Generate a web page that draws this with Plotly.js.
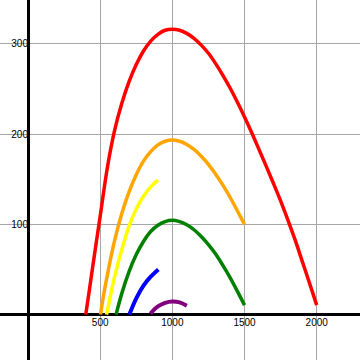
<!DOCTYPE html>
<html>
<head>
<meta charset="utf-8">
<script src="https://cdn.plot.ly/plotly-3.0.1.min.js"></script>
<style>html,body{margin:0;padding:0;background:#fff;}#chart{width:360px;height:360px;}</style>
</head>
<body>
<div id="chart"></div>
<script>
// Data
const redX = [400, 425, 450, 475, 500, 550, 600, 650, 700, 750, 800, 850, 900, 950, 1000, 1050, 1100, 1150, 1200, 1250, 1300, 1350, 1400, 1450, 1500, 1550, 1600, 1650, 1700, 1750, 1800, 1850, 1900, 1950, 2000];
const redY = [0, 27, 55, 82, 109, 163, 204, 234, 258, 277, 292, 303, 310.5, 315, 316, 315, 311.5, 306, 298.5, 289.5, 278, 265, 251, 235.5, 219, 201.5, 183, 164.5, 145.5, 126, 105, 83, 59, 35, 10.5];

const orangeX = [502, 525, 550, 575, 600, 650, 700, 750, 800, 850, 900, 950, 1000, 1050, 1100, 1150, 1200, 1250, 1300, 1350, 1400, 1450, 1500];
const orangeY = [0, 23, 44, 64, 82, 112, 136, 155, 170, 180.5, 188, 192, 193.5, 192, 188.5, 183, 175.5, 166.5, 155.5, 143.5, 130, 115, 100];

const yellowX = [544, 575, 600, 650, 700, 750, 800, 850, 900];
const yellowY = [0, 24, 42, 72, 98, 117, 131, 141.5, 149];

const greenX = [610, 650, 700, 750, 800, 850, 900, 950, 1000, 1050, 1100, 1150, 1200, 1250, 1300, 1350, 1400, 1450, 1500];
const greenY = [0, 23.5, 47.5, 66.5, 81, 92, 99, 103, 104.5, 103, 99.5, 94, 86.5, 77.5, 67, 54.5, 41, 26, 10.5];

const blueX = [702, 750, 800, 850, 903];
const blueY = [0, 18, 32, 42, 50];

const purpleX = [848, 900, 950, 1000, 1050, 1100];
const purpleY = [1, 9, 13, 14.5, 13.5, 9.8];

const xTicks = [500, 1000, 1500, 2000];
const yTicks = [100, 200, 300];

function series(x, y, color, width) {
  return {x: x, y: y, type: 'scatter', mode: 'lines',
          line: {color: color, width: width, shape: 'spline', smoothing: 1.0},
          hoverinfo: 'skip', showlegend: false};
}

const data = [
  series(redX, redY, '#ff0000', 3.5),
  series(orangeX, orangeY, '#ffa500', 3.5),
  series(yellowX, yellowY, '#ffff00', 3.5),
  series(greenX, greenY, '#008000', 3.5),
  series(blueX, blueY, '#0000ff', 4),
  series(purpleX, purpleY, '#800080', 4)
];

const xr = [-194, 2300];
const yr = [-50.3, 348.5];

const layout = {
  width: 360, height: 360,
  margin: {l: 0, r: 0, t: 0, b: 0, pad: 0},
  paper_bgcolor: '#ffffff', plot_bgcolor: '#ffffff',
  showlegend: false,
  font: {family: 'Liberation Sans, Arial, sans-serif', size: 10, color: '#000'},
  xaxis: {
    range: xr, tickvals: xTicks, ticktext: xTicks.map(String),
    showgrid: true, gridcolor: '#a6a6a6', gridwidth: 1,
    zeroline: true, zerolinecolor: '#000', zerolinewidth: 3,
    showline: false, ticks: '',
    anchor: 'free', position: (0 - yr[0]) / (yr[1] - yr[0]),
    tickfont: {family: 'Liberation Sans, Arial, sans-serif', size: 10, color: '#000'}
  },
  yaxis: {
    range: yr, tickvals: yTicks, ticktext: yTicks.map(String),
    showgrid: true, gridcolor: '#a6a6a6', gridwidth: 1,
    zeroline: true, zerolinecolor: '#000', zerolinewidth: 3,
    showline: false, ticks: '',
    anchor: 'free', position: (0 - xr[0]) / (xr[1] - xr[0]),
    tickfont: {family: 'Liberation Sans, Arial, sans-serif', size: 10, color: '#000'}
  }
};

Plotly.newPlot('chart', data, layout, {staticPlot: true, displayModeBar: false});
</script>
</body>
</html>
